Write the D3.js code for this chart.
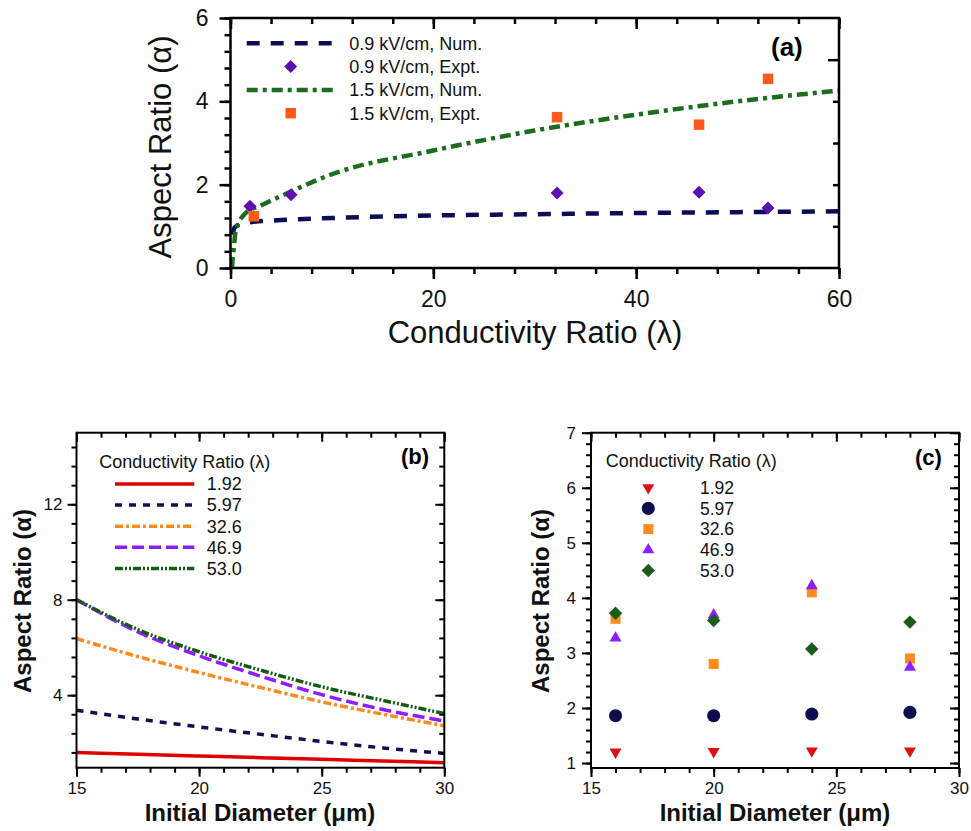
<!DOCTYPE html>
<html>
<head>
<meta charset="utf-8">
<script src="https://cdn.jsdelivr.net/npm/d3@7"></script>
<style>
body { margin: 0; background: #fff; }
svg { display: block; font-family: "Liberation Sans", Arial, sans-serif; }
</style>
</head>
<body>
<svg id="chart" width="971" height="831"></svg>
<script>
// ---------- panel (a): aspect ratio vs conductivity ratio ----------
const lowNumLambda = [0.2, 0.4, 1, 2, 5, 10, 20, 30, 40, 50, 60];
const lowNumAlpha = [0.8, 0.97, 1.05, 1.1, 1.15, 1.2, 1.26, 1.29, 1.32, 1.34, 1.36];
const highNumLambda = [0.15, 0.2, 0.33, 0.5, 1.5, 3, 6, 10, 20, 30, 40, 50, 60];
const highNumAlpha = [0, 0.2, 0.48, 0.88, 1.32, 1.5, 1.84, 2.25, 2.82, 3.3, 3.68, 4.0, 4.26];
const lowExptLambda = [1.92, 5.97, 32.2, 46.2, 53.0];
const lowExptAlpha = [1.48, 1.76, 1.8, 1.82, 1.44];
const highExptLambda = [2.3, 32.2, 46.2, 53.0];
const highExptAlpha = [1.24, 3.62, 3.44, 4.54];
const legendA = ['0.9 kV/cm, Num.', '0.9 kV/cm, Expt.', '1.5 kV/cm, Num.', '1.5 kV/cm, Expt.'];

// ---------- panels (b) and (c): aspect ratio vs initial diameter ----------
const lambdaLabels = ['1.92', '5.97', '32.6', '46.9', '53.0'];
const diamB = [15, 17.5, 20, 22.5, 25, 27.5, 30];
const alphaB = [
    [1.60, 1.52, 1.45, 1.38, 1.31, 1.24, 1.17],
    [3.37, 3.0, 2.67, 2.36, 2.06, 1.79, 1.56],
    [6.37, 5.62, 4.95, 4.32, 3.72, 3.2, 2.72],
    [8.0, 6.65, 5.65, 4.8, 4.02, 3.4, 2.92],
    [8.0, 6.75, 5.82, 5.05, 4.35, 3.78, 3.23]
];
const diamC = [16, 20, 24, 28];
const alphaC = [
    [1.2, 1.21, 1.22, 1.22],
    [1.86, 1.86, 1.89, 1.92],
    [3.62, 2.8, 4.1, 2.9],
    [3.27, 3.69, 4.22, 2.74],
    [3.72, 3.59, 3.07, 3.56]
];

const svg = d3.select('#chart');
svg.append('rect').attr('width', 971).attr('height', 831).attr('fill', '#fff');

function makePanel(box, xDomain, yDomain) {
    const g = svg.append('g');
    const x = d3.scaleLinear().domain(xDomain).range([box.left, box.right]);
    const y = d3.scaleLinear().domain(yDomain).range([box.bottom, box.top]);
    return {g, x, y, box};
}

function addAxis(p, axis, pos, values, size, s, labels, pad) {
    const a = p.g.append('g')
        .attr('transform', pos)
        .call(axis.tickValues(values).tickSize(size).tickPadding(pad || 3)
            .tickFormat(labels ? d3.format('d') : ''));
    a.select('.domain').remove();
    a.selectAll('line').attr('stroke', '#000').attr('stroke-width', s.width);
    a.attr('font-family', null).attr('font-size', s.font);
    a.selectAll('text').attr('fill', '#111');
    return a;
}

function drawAxes(p, s) {
    const {x, y, box} = p;
    const bot = `translate(0,${box.bottom})`, top = `translate(0,${box.top})`;
    const lft = `translate(${box.left},0)`, rgt = `translate(${box.right},0)`;
    // outward on the bottom and left, inward on the top and right
    addAxis(p, d3.axisBottom(x), bot, s.xMinor, s.minor, s);
    addAxis(p, d3.axisBottom(x), bot, s.xMajor, s.major, s, true, s.padX);
    addAxis(p, d3.axisLeft(y), lft, s.yMinor, s.minor, s);
    addAxis(p, d3.axisLeft(y), lft, s.yMajor, s.major, s, true, s.padY);
    addAxis(p, d3.axisTop(x), top, s.xMinor, -s.minor, s);
    addAxis(p, d3.axisTop(x), top, s.xMajor, -s.major, s);
    addAxis(p, d3.axisRight(y), rgt, s.rMinor || s.yMinor, -s.minor, s);
    addAxis(p, d3.axisRight(y), rgt, s.rMajor || s.yMajor, -s.major, s);
    p.g.append('rect')
        .attr('x', box.left).attr('y', box.top)
        .attr('width', box.right - box.left).attr('height', box.bottom - box.top)
        .attr('fill', 'none').attr('stroke', '#000').attr('stroke-width', s.width);
}

function symbolPath(type, area) {
    return d3.symbol().type(type).size(area)();
}

function marker(g, m, cx, cy) {
    g.append('path')
        .attr('d', symbolPath(m.type, m.size))
        .attr('transform', `translate(${cx},${cy}) rotate(${m.rot || 0})`)
        .attr('fill', m.color);
}

// ================= panel (a) =================
const pa = makePanel({left: 230.5, right: 839, top: 18, bottom: 268}, [0, 60], [0, 6]);
const lineA = (xs, ys) => d3.line()
    .x((d, i) => pa.x(xs[i])).y(d => pa.y(d))
    .curve(d3.curveMonotoneX)(ys);

const styleA = [
    {color: '#0c0c58', dash: '13,11', width: 4.5},
    {type: d3.symbolSquare, size: 85, rot: 45, color: '#5c10b0'},
    {color: '#1d6b1d', dash: '11,5,4,5', width: 4.5},
    {type: d3.symbolSquare, size: 110, color: '#ff5a18'}
];

pa.g.append('path').attr('d', lineA(lowNumLambda, lowNumAlpha))
    .attr('fill', 'none').attr('stroke', styleA[0].color)
    .attr('stroke-width', styleA[0].width).attr('stroke-dasharray', styleA[0].dash);
pa.g.append('path').attr('d', lineA(highNumLambda, highNumAlpha))
    .attr('fill', 'none').attr('stroke', styleA[2].color)
    .attr('stroke-width', styleA[2].width).attr('stroke-dasharray', styleA[2].dash);
lowExptAlpha.forEach((v, i) => marker(pa.g, styleA[1], pa.x(lowExptLambda[i]), pa.y(v)));
highExptAlpha.forEach((v, i) => marker(pa.g, styleA[3], pa.x(highExptLambda[i]), pa.y(v)));

drawAxes(pa, {
    width: 2.5, major: 11, minor: 6, font: 23, padX: 12, padY: 11,
    xMajor: [0, 20, 40, 60], xMinor: d3.range(0, 61, 4),
    yMajor: [0, 2, 4, 6], yMinor: d3.range(0, 6.01, 0.4),
    rMajor: [5], rMinor: [1, 2, 3, 4]
});

// legend (a)
legendA.forEach((label, i) => {
    const ly = 43.3 + i * 23.3;
    const st = styleA[i];
    if (st.dash) {
        pa.g.append('line').attr('x1', 246.7).attr('x2', 335).attr('y1', ly).attr('y2', ly)
            .attr('stroke', st.color).attr('stroke-width', st.width).attr('stroke-dasharray', st.dash);
    } else {
        marker(pa.g, st, 290.7, ly);
    }
    pa.g.append('text').attr('x', 349.3).attr('y', ly).attr('dy', '0.35em')
        .attr('font-size', 18).attr('fill', '#111').text(label);
});
pa.g.append('text').attr('x', 771).attr('y', 56).attr('font-size', 26)
    .attr('font-weight', 'bold').text('(a)');
svg.append('text').attr('transform', 'translate(171,147) rotate(-90)')
    .attr('text-anchor', 'middle').attr('font-size', 31).attr('fill', '#111').text('Aspect Ratio (α)');
svg.append('text').attr('x', 535).attr('y', 343)
    .attr('text-anchor', 'middle').attr('font-size', 31).attr('fill', '#111').text('Conductivity Ratio (λ)');

// ================= panel (b) =================
const pb = makePanel({left: 76.5, right: 444.3, top: 432.7, bottom: 767.7}, [15, 30], [0.96, 15]);
const styleB = [
    {color: '#e00000', dash: null, width: 3.5},
    {color: '#10104f', dash: '7,7', width: 3.5},
    {color: '#ff8a1e', dash: '8,3,3,3', width: 3.5},
    {color: '#8c1eff', dash: '12,5', width: 3.5},
    {color: '#145c14', dash: '8,2,2,2,2,2', width: 3.5}
];
const lineB = d3.line().x((d, i) => pb.x(diamB[i])).y(d => pb.y(d)).curve(d3.curveMonotoneX);
alphaB.forEach((series, k) => {
    pb.g.append('path').attr('d', lineB(series))
        .attr('fill', 'none').attr('stroke', styleB[k].color)
        .attr('stroke-width', styleB[k].width)
        .attr('stroke-dasharray', styleB[k].dash);
});
drawAxes(pb, {
    width: 2, major: 9, minor: 5, font: 17, padX: 5, padY: 5,
    xMajor: [15, 20, 25, 30], xMinor: d3.range(15, 30.01, 1),
    yMajor: [4, 8, 12], yMinor: d3.range(1.6, 14.5, 0.8)
});
pb.g.append('text').attr('x', 99.3).attr('y', 467.7).attr('font-size', 18).attr('fill', '#111')
    .text('Conductivity Ratio (λ)');
lambdaLabels.forEach((label, i) => {
    const ly = 484 + i * 21.1;
    pb.g.append('line').attr('x1', 115).attr('x2', 194.3).attr('y1', ly).attr('y2', ly)
        .attr('stroke', styleB[i].color).attr('stroke-width', styleB[i].width)
        .attr('stroke-dasharray', styleB[i].dash);
    pb.g.append('text').attr('x', 206.7).attr('y', ly).attr('dy', '0.35em')
        .attr('font-size', 18).attr('fill', '#111').text(label);
});
pb.g.append('text').attr('x', 401).attr('y', 464).attr('font-size', 22)
    .attr('font-weight', 'bold').text('(b)');
svg.append('text').attr('transform', 'translate(31,601) rotate(-90)')
    .attr('text-anchor', 'middle').attr('font-size', 24).attr('font-weight', 'bold')
    .attr('fill', '#111').text('Aspect Ratio (α)');
svg.append('text').attr('x', 260).attr('y', 821)
    .attr('text-anchor', 'middle').attr('font-size', 24).attr('font-weight', 'bold')
    .attr('fill', '#111').text('Initial Diameter (μm)');

// ================= panel (c) =================
const pc = makePanel({left: 591, right: 959, top: 432.7, bottom: 768}, [15, 30], [0.91, 7]);
const styleC = [
    {type: d3.symbolTriangle, size: 62, rot: 180, color: '#dd1111'},
    {type: d3.symbolCircle, size: 135, color: '#0d0d4d'},
    {type: d3.symbolSquare, size: 100, color: '#ff8a1e'},
    {type: d3.symbolTriangle, size: 62, color: '#8c1eff'},
    {type: d3.symbolSquare, size: 90, rot: 45, color: '#1a5c1a'}
];
alphaC.forEach((series, k) => {
    series.forEach((v, i) => marker(pc.g, styleC[k], pc.x(diamC[i]), pc.y(v)));
});
drawAxes(pc, {
    width: 2, major: 9, minor: 5, font: 17, padX: 5, padY: 6,
    xMajor: [15, 20, 25, 30], xMinor: d3.range(15, 30.01, 1),
    yMajor: [1, 2, 3, 4, 5, 6, 7], yMinor: d3.range(1, 7.01, 0.2)
});
pc.g.append('text').attr('x', 605.7).attr('y', 466.7).attr('font-size', 18).attr('fill', '#111')
    .text('Conductivity Ratio (λ)');
lambdaLabels.forEach((label, i) => {
    const ly = 487.7 + i * 20.7;
    marker(pc.g, styleC[i], 648.3, ly);
    pc.g.append('text').attr('x', 700).attr('y', ly).attr('dy', '0.35em')
        .attr('font-size', 17.5).attr('fill', '#111').text(label);
});
pc.g.append('text').attr('x', 915).attr('y', 465).attr('font-size', 22)
    .attr('font-weight', 'bold').text('(c)');
svg.append('text').attr('transform', 'translate(549,601) rotate(-90)')
    .attr('text-anchor', 'middle').attr('font-size', 24).attr('font-weight', 'bold')
    .attr('fill', '#111').text('Aspect Ratio (α)');
svg.append('text').attr('x', 775).attr('y', 821)
    .attr('text-anchor', 'middle').attr('font-size', 24).attr('font-weight', 'bold')
    .attr('fill', '#111').text('Initial Diameter (μm)');
</script>
</body>
</html>
